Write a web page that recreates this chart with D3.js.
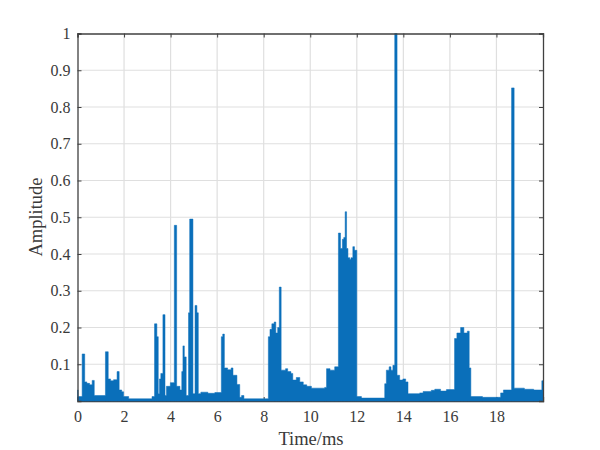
<!DOCTYPE html>
<html>
<head>
<meta charset="utf-8">
<script src="https://cdn.jsdelivr.net/npm/d3@7"></script>
<style>
  html, body { margin: 0; background: #fff; }
  text { font-family: "Liberation Serif", serif; fill: #3a3a3a; }
</style>
</head>
<body>
<div id="chart"></div>
<script>
// envelope of the signal: start time (ms) of each step and its amplitude
var times = [0, 0.03, 0.2, 0.31, 0.4, 0.52, 0.63, 0.72, 1.2, 1.32, 1.42, 1.55, 1.7, 1.79, 1.9, 1.98, 2.2, 3.2, 3.31, 3.41, 3.47, 3.52, 3.58, 3.67, 3.76, 3.82, 3.99, 4.16, 4.26, 4.4, 4.48, 4.53, 4.59, 4.67, 4.77, 4.82, 4.96, 5.05, 5.13, 5.19, 5.3, 5.6, 5.9, 6.18, 6.24, 6.31, 6.45, 6.6, 6.68, 6.85, 6.97, 7.05, 7.15, 8.2, 8.27, 8.35, 8.45, 8.52, 8.6, 8.67, 8.75, 8.94, 9.03, 9.17, 9.25, 9.4, 9.55, 9.7, 9.85, 10.05, 10.62, 10.7, 10.85, 11.05, 11.21, 11.3, 11.38, 11.44, 11.5, 11.56, 11.62, 11.7, 11.75, 11.83, 11.9, 12, 12.2, 13.2, 13.27, 13.39, 13.47, 13.55, 13.63, 13.73, 13.84, 13.98, 14.1, 14.2, 14.7, 14.85, 15.2, 15.35, 15.6, 15.85, 16.2, 16.3, 16.46, 16.6, 16.75, 16.83, 16.9, 17.4, 18.18, 18.3, 18.65, 18.76, 19.2, 19.6, 19.95];
var amps = [0.03, 0.012, 0.128, 0.052, 0.048, 0.044, 0.056, 0.015, 0.134, 0.06, 0.055, 0.058, 0.08, 0.03, 0.025, 0.012, 0.006, 0.012, 0.21, 0.175, 0.02, 0.06, 0.075, 0.235, 0.015, 0.04, 0.05, 0.478, 0.04, 0.03, 0.08, 0.15, 0.12, 0.015, 0.24, 0.495, 0.02, 0.26, 0.24, 0.02, 0.024, 0.021, 0.023, 0.175, 0.182, 0.09, 0.085, 0.09, 0.07, 0.045, 0.01, 0.015, 0.006, 0.175, 0.195, 0.21, 0.215, 0.185, 0.2, 0.31, 0.084, 0.088, 0.08, 0.075, 0.057, 0.064, 0.052, 0.044, 0.04, 0.035, 0.037, 0.088, 0.084, 0.093, 0.457, 0.415, 0.44, 0.445, 0.515, 0.415, 0.39, 0.385, 0.39, 0.42, 0.41, 0.012, 0.008, 0.047, 0.084, 0.093, 0.084, 0.097, 1, 0.07, 0.057, 0.06, 0.052, 0.02, 0.022, 0.026, 0.029, 0.032, 0.027, 0.031, 0.17, 0.185, 0.2, 0.185, 0.19, 0.09, 0.012, 0.01, 0.022, 0.03, 0.852, 0.035, 0.032, 0.03, 0.055];
var xTicks = [0, 2, 4, 6, 8, 10, 12, 14, 16, 18, 20];
var xTickLabels = ["0", "2", "4", "6", "8", "10", "12", "14", "16", "18", ""];
var yTicks = [0.1, 0.2, 0.3, 0.4, 0.5, 0.6, 0.7, 0.8, 0.9, 1];

var left = 77.5, right = 543, top_ = 33.5, bottom = 401;
var axisColor = "#404040", gridColor = "#dfdfdf", lineColor = "#0a6fba";

var svg = d3.select("#chart").append("svg")
    .attr("width", 600)
    .attr("height", 450)
    .style("display", "block");

var x = d3.scaleLinear().domain([0, 20]).range([left, right]);
var y = d3.scaleLinear().domain([0, 1]).range([bottom, top_]);

// grid first so the signal sits on top
svg.append("g").selectAll("line").data(xTicks.slice(1, -1)).enter().append("line")
    .attr("x1", d => x(d)).attr("x2", d => x(d))
    .attr("y1", top_).attr("y2", bottom)
    .attr("stroke", gridColor).attr("stroke-width", 1.2);
svg.append("g").selectAll("line").data(yTicks.slice(0, -1)).enter().append("line")
    .attr("x1", left).attr("x2", right)
    .attr("y1", d => y(d)).attr("y2", d => y(d))
    .attr("stroke", gridColor).attr("stroke-width", 1.2);

// axes, ticks point inward on all four sides
var tick = 4;
var xAxis = d3.axisBottom(x).tickValues(xTicks).tickSize(-tick).tickPadding(10)
    .tickFormat((d, i) => xTickLabels[i]);
var yAxis = d3.axisLeft(y).tickValues(yTicks).tickSize(-tick).tickPadding(7)
    .tickFormat(d3.format("~g"));
var xTop = d3.axisTop(x).tickValues(xTicks).tickSize(-tick).tickFormat("");
var yRight = d3.axisRight(y).tickValues(yTicks).tickSize(-tick).tickFormat("");

function place(axis, tx, ty) {
    var g = svg.append("g").attr("transform", "translate(" + tx + "," + ty + ")").call(axis);
    g.selectAll("path").attr("stroke", axisColor).attr("stroke-width", 1.3);
    g.selectAll("line").attr("stroke", axisColor).attr("stroke-width", 1);
    g.selectAll("text").attr("font-size", 16).attr("fill", "#3a3a3a")
        .attr("font-family", "Liberation Serif");
    return g;
}

// bottom axis goes under the signal, its baseline is blue in the picture
place(xAxis, 0, bottom);

var points = times.map((t, i) => [t, amps[i]]);
points.push([20, amps[amps.length - 1]]);

var area = d3.area()
    .x(d => x(d[0]))
    .y0(y(0))
    .y1(d => y(d[1]))
    .curve(d3.curveStepAfter);

svg.append("path")
    .datum(points)
    .attr("d", area)
    .attr("fill", lineColor)
    .attr("stroke", lineColor)
    .attr("stroke-width", 0.5);

place(yAxis, left, 0);
place(xTop, 0, top_);
place(yRight, right, 0);

svg.append("text")
    .attr("x", 311)
    .attr("y", 445)
    .attr("text-anchor", "middle")
    .attr("font-size", 18.5)
    .text("Time/ms");

svg.append("text")
    .attr("transform", "translate(42,217) rotate(-90)")
    .attr("text-anchor", "middle")
    .attr("font-size", 18.5)
    .text("Amplitude");
</script>
</body>
</html>
